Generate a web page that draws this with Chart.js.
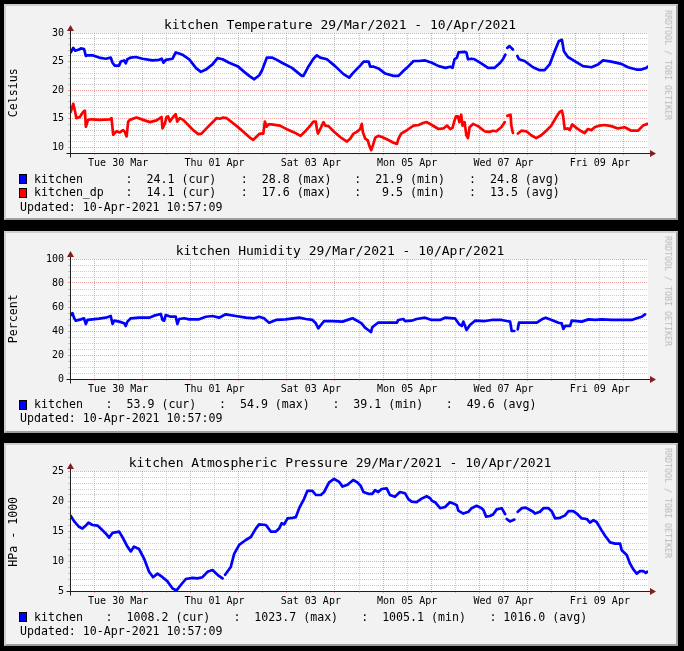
<!DOCTYPE html>
<html><head><meta charset="utf-8">
<script src="https://cdn.jsdelivr.net/npm/chart.js@4.4.1/dist/chart.umd.min.js"></script>
<style>
html,body{margin:0;padding:0;background:#000;width:684px;height:651px;overflow:hidden;position:relative;}
.panel{position:absolute;background:#f2f2f2;box-sizing:border-box;border-style:solid;border-width:2px;border-color:#cfcfcf #9e9e9e #9e9e9e #cfcfcf;}
canvas{position:absolute;}
.t{position:absolute;font-family:"DejaVu Sans Mono",monospace;white-space:pre;color:#000;line-height:1;}
.sq{position:absolute;box-sizing:border-box;border:1px solid #000;width:8px;height:10px;}
</style></head>
<body>
<script>
// ---- time axis (hours since 29 Mar 2021 00:00) ----
const X_MIN = 12, X_MAX = 300;
const labelHours = [36, 84, 132, 180, 228, 276];
const dayLabels = ['Tue 30 Mar','Thu 01 Apr','Sat 03 Apr','Mon 05 Apr','Wed 07 Apr','Fri 09 Apr'];

// ---- kitchen temperature (Celsius) ----
const tempHours = [12.4,13.6,14.6,16.5,17.4,19.0,19.9,20.7,23.2,26.5,29.8,32.3,33.2,34.3,36.5,37.3,39.0,39.8,40.6,42.3,44.8,48.1,53.1,56.4,57.7,58.6,59.7,63.1,64.7,66.4,68.0,71.4,74.7,77.2,79.7,83.0,85.5,88.0,91.3,95.5,98.8,101.3,103.8,106.3,107.6,110.1,112.6,115.1,117.6,122.6,127.5,128.3,130.9,133.3,135.0,136.7,140.0,144.1,148.3,151.1,153.3,156.6,158.3,160.8,161.6,163.3,165.7,169.1,173.2,175.7,178.2,180.7,183.2,185.7,189.0,192.3,195.7,199.0,201.5,202.6,203.6,204.8,205.6,208.6,209.5,210.3,212.0,213.6,216.9,220.3,223.6,226.1,227.7,228.9,229.4,229.9,231.0,232.7,233.8,234.9,235.7,238.5,242.7,246.0,248.5,251.0,253.5,255.6,257.1,258.1,260.1,264.3,267.6,271.8,275.1,277.6,281.7,286.7,290.0,294.2,296.7,299.2,299.8];
const tempValues = [26.6,27.4,26.9,27.1,27.3,27.2,26.0,26.1,26.1,25.7,25.5,25.7,24.8,24.3,24.3,25.0,25.2,24.7,25.4,25.7,25.8,25.5,25.2,25.3,25.5,24.8,25.3,25.5,26.6,26.4,26.2,25.4,23.9,23.2,23.6,24.5,25.6,25.4,24.8,24.2,23.2,22.5,21.9,22.6,23.4,25.7,25.7,25.3,24.8,23.9,22.5,22.5,24.2,25.5,26.1,25.7,25.4,24.2,22.8,22.2,23.1,24.3,25.0,25.0,24.1,24.1,23.8,22.9,22.5,22.5,23.4,24.2,25.1,25.1,25.2,24.8,24.2,23.9,24.1,23.9,25.4,25.7,26.6,26.7,26.6,25.4,25.5,25.4,24.7,23.9,23.9,24.7,25.4,26.2,null,27.4,27.7,27.1,null,26.0,25.4,25.1,24.0,23.5,23.5,24.5,26.8,28.6,28.8,26.8,25.8,24.9,24.2,24.0,24.5,25.2,25.0,24.6,24.0,23.6,23.6,23.9,24.1];

// ---- kitchen dew point (Celsius) ----
const dpHours = [12.4,13.6,14.4,15.2,16.9,18.6,19.4,19.9,21.0,22.7,26.9,31.8,32.7,33.5,35.2,36.8,38.5,39.3,40.2,41.0,41.8,45.1,48.5,51.8,55.1,56.8,57.6,58.1,59.3,60.1,60.9,61.8,63.4,64.7,65.4,66.7,68.4,70.9,73.4,75.9,77.5,80.0,83.4,85.0,86.7,88.3,90.0,93.3,97.5,101.6,103.3,105.0,106.6,108.3,109.1,110.0,110.8,112.4,116.6,120.4,123.7,126.9,129.2,131.7,133.3,134.5,135.0,135.5,136.7,138.3,139.2,140.8,143.3,146.6,150.0,151.6,153.3,154.9,156.6,157.4,157.9,159.1,160.4,161.1,162.1,162.9,164.1,165.7,167.4,169.9,173.2,174.9,175.7,177.0,179.0,180.7,183.2,185.7,188.2,189.8,192.3,195.6,198.1,199.8,201.5,202.6,203.6,204.3,205.3,206.0,206.9,207.6,208.6,209.5,210.3,211.1,212.0,212.8,215.3,218.6,221.1,222.7,224.4,226.9,228.6,229.4,229.9,231.5,231.9,232.7,233.8,235.2,236.9,239.4,241.8,244.3,246.8,249.3,251.8,254.3,256.0,257.1,257.7,258.5,260.1,261.0,262.3,264.3,266.8,268.4,270.1,271.8,273.4,275.9,278.4,281.7,285.0,288.4,291.7,295.0,297.5,299.8];
const dpValues = [16.2,17.6,16.5,15.1,15.3,16.2,16.4,13.6,14.8,14.9,14.8,14.9,15.1,12.2,12.8,12.6,13.0,12.7,11.9,14.5,14.8,15.2,14.8,14.4,14.7,15.1,15.3,13.3,14.2,15.3,15.4,14.5,15.3,15.8,14.5,15.1,14.8,13.9,13.0,12.3,12.4,13.3,14.5,15.1,15.0,15.2,15.1,14.2,13.0,11.7,11.3,11.9,12.4,12.4,14.5,13.6,14.0,14.0,13.8,13.1,12.6,12.0,12.8,13.8,14.5,14.5,13.2,12.4,13.2,14.4,13.8,13.7,12.8,11.8,11.0,11.5,12.4,12.7,13.2,14.1,12.7,11.5,11.2,10.3,9.5,10.3,11.7,12.0,11.8,11.4,10.8,10.6,11.5,12.4,12.8,13.2,13.8,13.9,14.3,14.4,13.9,13.2,13.3,13.8,13.2,13.4,14.7,15.4,15.4,14.4,15.7,13.8,14.4,12.1,11.6,13.5,13.8,14.1,13.7,12.8,12.7,12.9,12.8,13.5,14.4,null,15.5,15.7,13.8,12.5,null,12.4,12.9,12.8,12.1,11.6,12.1,12.9,13.8,15.3,16.2,16.4,15.5,13.2,13.3,13.0,14.0,13.4,12.8,12.5,13.2,13.0,13.5,13.8,13.9,13.7,13.3,13.5,12.9,12.9,13.8,14.1];

// ---- kitchen humidity (Percent) ----
const humHours = [12.4,13.2,14.1,14.9,17.4,19.0,19.9,20.7,23.2,26.5,29.8,32.3,33.2,34.0,36.5,39.0,39.8,40.6,42.3,46.4,51.4,53.9,57.2,58.1,58.9,59.7,62.2,64.7,65.5,66.4,68.9,71.4,76.3,79.7,83.0,86.3,89.6,94.6,99.6,103.8,106.2,108.7,109.6,111.2,114.6,119.5,126.2,129.5,132.8,134.5,135.7,137.0,138.6,142.8,147.8,151.1,152.8,154.4,157.3,159.0,160.6,162.0,162.6,164.0,165.6,170.6,174.8,175.6,178.1,179.0,182.2,184.7,188.9,192.2,196.4,198.9,203.0,203.8,205.8,207.2,208.0,209.6,211.3,213.8,218.8,222.1,227.1,229.6,231.3,232.1,233.4,234.2,235.1,235.7,240.4,244.6,247.1,249.0,252.0,255.4,257.0,257.8,258.7,261.2,262.0,267.0,270.3,273.6,277.0,281.9,286.9,291.9,294.4,296.9,298.5];
const humValues = [53.3,54.9,50.6,48.6,49.7,50.6,45.8,49.2,49.7,50.3,51.1,52.5,45.8,48.6,47.8,46.4,44.2,47.8,50.6,51.1,51.1,52.8,54.2,49.2,48.6,53.3,51.9,51.9,45.8,50.0,50.6,49.7,49.7,51.9,52.5,51.1,53.9,52.5,51.1,50.6,51.9,50.6,49.2,46.9,49.2,49.7,51.1,50.0,49.2,46.4,42.2,45.0,48.3,48.3,47.8,49.7,50.6,49.2,46.4,42.8,40.8,39.1,43.1,45.0,46.9,46.9,46.9,49.2,50.0,48.3,48.6,50.0,51.1,49.2,49.2,51.1,50.6,50.6,45.8,44.2,47.8,40.8,45.0,48.6,48.3,49.2,49.2,48.3,47.8,40.0,40.0,null,41.4,46.9,46.9,46.9,49.7,51.1,49.2,46.9,46.4,41.7,44.2,44.2,48.6,47.8,49.7,49.2,49.7,49.2,49.2,49.2,50.6,51.9,53.9];

// ---- kitchen atmospheric pressure (HPa - 1000) ----
const presHours = [12.4,14.1,16.5,18.2,19.9,21.2,23.2,25.7,27.3,29.8,31.5,33.2,36.5,38.1,40.6,42.3,43.9,46.4,48.9,51.4,53.4,55.6,58.1,60.6,63.1,65.1,67.2,69.7,73.0,75.5,78.0,80.5,83.0,85.5,88.0,88.6,89.3,92.1,93.8,96.3,99.6,102.1,104.6,106.2,109.6,112.1,114.6,116.2,117.5,118.7,120.4,122.9,124.5,126.2,128.7,130.3,132.8,134.5,137.0,138.6,141.1,143.6,146.1,147.8,150.3,153.1,155.2,156.9,158.2,160.6,162.6,164.0,165.6,167.3,169.8,171.4,173.9,176.4,178.9,180.6,182.2,184.7,187.2,189.7,191.3,192.5,193.9,196.4,198.9,201.3,203.0,204.7,205.5,208.0,210.5,212.1,214.6,217.1,218.0,219.3,221.3,222.9,224.6,227.1,228.8,229.2,229.6,231.2,233.4,234.2,235.1,237.1,239.1,241.2,242.8,243.7,246.2,247.9,250.4,252.0,253.7,256.2,258.7,260.3,262.8,264.5,267.0,269.5,271.1,272.8,274.4,276.9,278.6,281.1,283.6,286.1,286.9,289.4,291.0,292.7,294.4,296.0,297.7,298.9,299.6];
const presValues = [17.5,16.6,15.7,15.4,15.9,16.4,16.0,15.9,15.4,14.6,13.9,14.7,14.9,14.0,12.4,11.6,12.4,12.0,10.4,8.2,7.3,7.9,7.3,6.6,5.4,5.1,6.0,7.0,7.2,7.1,7.3,8.2,8.5,7.7,7.1,null,7.7,9.0,11.2,12.7,13.5,14.0,15.4,16.1,16.0,14.9,14.9,15.4,16.3,16.1,17.1,17.2,17.3,18.8,20.4,21.7,21.7,21.0,21.0,21.5,23.1,23.7,23.2,22.4,22.7,23.5,23.1,22.5,21.5,21.2,21.2,21.8,21.5,22.0,22.1,21.0,20.7,21.5,21.3,20.3,19.9,19.8,20.4,20.8,20.5,20.0,19.8,18.8,19.0,19.8,19.6,19.3,18.4,17.9,18.2,18.8,19.2,18.8,18.5,17.4,17.5,17.8,18.6,18.8,17.8,null,17.0,16.6,16.9,null,18.2,18.8,18.9,18.5,18.2,17.9,18.2,18.8,18.8,18.3,17.1,17.2,17.6,18.3,18.3,17.9,17.1,17.0,16.4,16.8,16.5,15.1,14.2,13.1,12.9,12.9,11.8,11.0,9.6,8.6,7.9,8.3,8.3,8.0,8.2];

// ---- legend statistics ----
const tempStats = ['24.1','28.8','21.9','24.8'];
const dpStats   = ['14.1','17.6','9.5','13.5'];
const humStats  = ['53.9','54.9','39.1','49.6'];
const presStats = ['1008.2','1023.7','1005.1','1016.0'];
const statKinds = ['cur','max','min','avg'];
const updatedText = 'Updated: 10-Apr-2021 10:57:09';

const MAJOR = 'rgba(222,79,79,0.5)';
const MINOR = 'rgba(143,143,143,0.45)';
const FONT = '"DejaVu Sans Mono", monospace';

const panels = [
  { top: 4, h: 216, plotTop: 29, plotBottom: 149, yMin: 9, yMax: 30, minor: 1, major: 5,
    title: 'kitchen Temperature 29/Mar/2021 - 10/Apr/2021', titleY: 24.5, yTitle: 'Celsius', yTitleY: 92.5, wmY: 65,
    series: [ {name:'kitchen', color:'#0000ff', hours: tempHours, values: tempValues, stats: tempStats, seps: [':  ',':  ',':  ',':  ']},
              {name:'kitchen_dp', color:'#ff0000', hours: dpHours, values: dpValues, stats: dpStats, seps: [':  ',':  ',':   ',':  ']} ],
    rowsY: [179.3, 192.7], chunkX: [125.6, 240.8, 354.2, 469.0], updY: 207.3 },
  { top: 231, h: 202, plotTop: 28, plotBottom: 148, yMin: 0, yMax: 100, minor: 5, major: 20,
    title: 'kitchen Humidity 29/Mar/2021 - 10/Apr/2021', titleY: 250, yTitle: 'Percent', yTitleY: 318.5, wmY: 291,
    series: [ {name:'kitchen', color:'#0000ff', hours: humHours, values: humValues, stats: humStats, seps: [':  ',':  ',':  ',':  ']} ],
    rowsY: [405], chunkX: [105.6, 219.0, 332.4, 445.8], updY: 419 },
  { top: 443, h: 203, plotTop: 28, plotBottom: 148, yMin: 5, yMax: 25, minor: 1, major: 5,
    title: 'kitchen Atmospheric Pressure 29/Mar/2021 - 10/Apr/2021', titleY: 462.5, yTitle: 'HPa - 1000', yTitleY: 531.5, wmY: 503,
    series: [ {name:'kitchen', color:'#0000ff', hours: presHours, values: presValues, stats: presStats, seps: [':  ',':  ',':  ',': ']} ],
    rowsY: [617.3], chunkX: [105.6, 233.4, 361.2, 489.4], updY: 631.3 }
];

function addText(x, yc, str, size, extra) {
  const d = document.createElement('div');
  d.className = 't';
  d.textContent = str;
  d.style.fontSize = size + 'px';
  d.style.left = x + 'px';
  d.style.top = (yc - 0.48 * size) + 'px';
  if (extra) Object.assign(d.style, extra);
  document.body.appendChild(d);
  return d;
}
function addRot(cx, cy, str, size, deg, color) {
  const d = document.createElement('div');
  d.className = 't';
  d.textContent = str;
  Object.assign(d.style, { fontSize: size + 'px', width: '200px', height: size + 'px', textAlign: 'center',
    left: (cx - 100) + 'px', top: (cy - size / 2) + 'px', transform: 'rotate(' + deg + 'deg)', color: color || '#000' });
  document.body.appendChild(d);
}

const rrdPlugin = {
  id: 'rrd',
  beforeDraw(chart) {
    const { ctx, chartArea: a } = chart;
    ctx.save(); ctx.fillStyle = '#ffffff';
    ctx.fillRect(a.left, a.top, a.right - a.left, a.bottom - a.top);
    ctx.restore();
  },
  afterDraw(chart) {
    const { ctx, chartArea: a } = chart;
    const L = Math.round(a.left) + 0.5, B = Math.round(a.bottom) + 0.5, T = a.top, R = a.right;
    ctx.save();
    ctx.strokeStyle = '#1f1f1f'; ctx.lineWidth = 1;
    ctx.beginPath();
    ctx.moveTo(L - 4, B); ctx.lineTo(R + 4, B);
    ctx.moveTo(L, B + 4); ctx.lineTo(L, T - 4);
    ctx.stroke();
    ctx.fillStyle = '#801f1f';
    ctx.beginPath(); ctx.moveTo(R + 2, B - 3.5); ctx.lineTo(R + 2, B + 3.5); ctx.lineTo(R + 8, B); ctx.closePath(); ctx.fill();
    ctx.beginPath(); ctx.moveTo(L - 3.5, T - 2); ctx.lineTo(L + 3.5, T - 2); ctx.lineTo(L, T - 8); ctx.closePath(); ctx.fill();
    ctx.restore();
  }
};

const gridHours = [];
for (let h = 24; h <= 288; h += 12) gridHours.push(h);

panels.forEach(p => {
  const box = document.createElement('div');
  box.className = 'panel';
  Object.assign(box.style, { left: '4px', top: p.top + 'px', width: '674px', height: p.h + 'px' });
  document.body.appendChild(box);

  const cv = document.createElement('canvas');
  cv.width = 674; cv.height = p.h;
  Object.assign(cv.style, { left: '4px', top: p.top + 'px', width: '674px', height: p.h + 'px' });
  document.body.appendChild(cv);

  const yTicks = [];
  for (let v = p.yMin; v <= p.yMax + 1e-9; v += p.minor) yTicks.push({ value: v });

  new Chart(cv, {
    type: 'line',
    data: { datasets: p.series.map(s => ({
      label: s.name,
      data: s.hours.map((h, i) => ({ x: h, y: s.values[i] })),
      borderColor: s.color, borderWidth: 2.7, pointRadius: 0, tension: 0, spanGaps: false, fill: false,
      borderJoinStyle: 'round', borderCapStyle: 'round'
    })) },
    options: {
      responsive: false, animation: false, events: [],
      layout: { padding: { left: 0, right: 30, top: p.plotTop, bottom: p.h - p.plotBottom - 20 } },
      plugins: { legend: { display: false }, tooltip: { enabled: false }, title: { display: false } },
      scales: {
        x: {
          type: 'linear', min: X_MIN, max: X_MAX,
          afterBuildTicks: sc => { sc.ticks = gridHours.map(v => ({ value: v })); },
          afterFit: sc => { sc.height = 20; },
          grid: { color: c => (c.tick && c.tick.value % 24 === 0) ? MAJOR : MINOR, lineWidth: 1, drawTicks: true, tickLength: 2 },
          border: { display: false, dash: [1, 1] },
          ticks: { autoSkip: false, maxRotation: 0, minRotation: 0, padding: 2, color: '#000',
            font: { family: FONT, size: 10 },
            callback: v => { const i = labelHours.indexOf(v); return i >= 0 ? dayLabels[i] : ''; } }
        },
        y: {
          type: 'linear', min: p.yMin, max: p.yMax,
          afterBuildTicks: sc => { sc.ticks = yTicks.map(t => ({ value: t.value })); },
          afterFit: sc => { sc.width = 66; },
          grid: { color: c => (c.tick && Math.abs(c.tick.value % p.major) < 1e-6) ? MAJOR : MINOR, lineWidth: 1, drawTicks: true, tickLength: 2 },
          border: { display: false, dash: [1, 1] },
          ticks: { autoSkip: false, padding: 4, color: '#000', font: { family: FONT, size: 10 },
            callback: v => (Math.abs(v % p.major) < 1e-6) ? String(v) : '' }
        }
      }
    },
    plugins: [rrdPlugin]
  });

  // title, axis title, watermark
  addText(40, p.titleY, p.title, 13, { width: '600px', textAlign: 'center' });
  addRot(14.4, p.yTitleY, p.yTitle, 11.6, -90);
  addRot(667.5, p.wmY, 'RRDTOOL / TOBI OETIKER', 8.3, 90, '#b8b8b8');

  // legend
  p.series.forEach((s, r) => {
    const yc = p.rowsY[r];
    const sq = document.createElement('div');
    sq.className = 'sq';
    Object.assign(sq.style, { left: '19px', top: (yc - 5.2) + 'px', background: s.color });
    document.body.appendChild(sq);
    addText(34, yc, s.name, 11.6);
    s.stats.forEach((v, k) => {
      addText(p.chunkX[k], yc, s.seps[k] + v + ' (' + statKinds[k] + ')', 11.6);
    });
  });
  addText(20, p.updY, updatedText, 11.6);
});
</script>
</body></html>
